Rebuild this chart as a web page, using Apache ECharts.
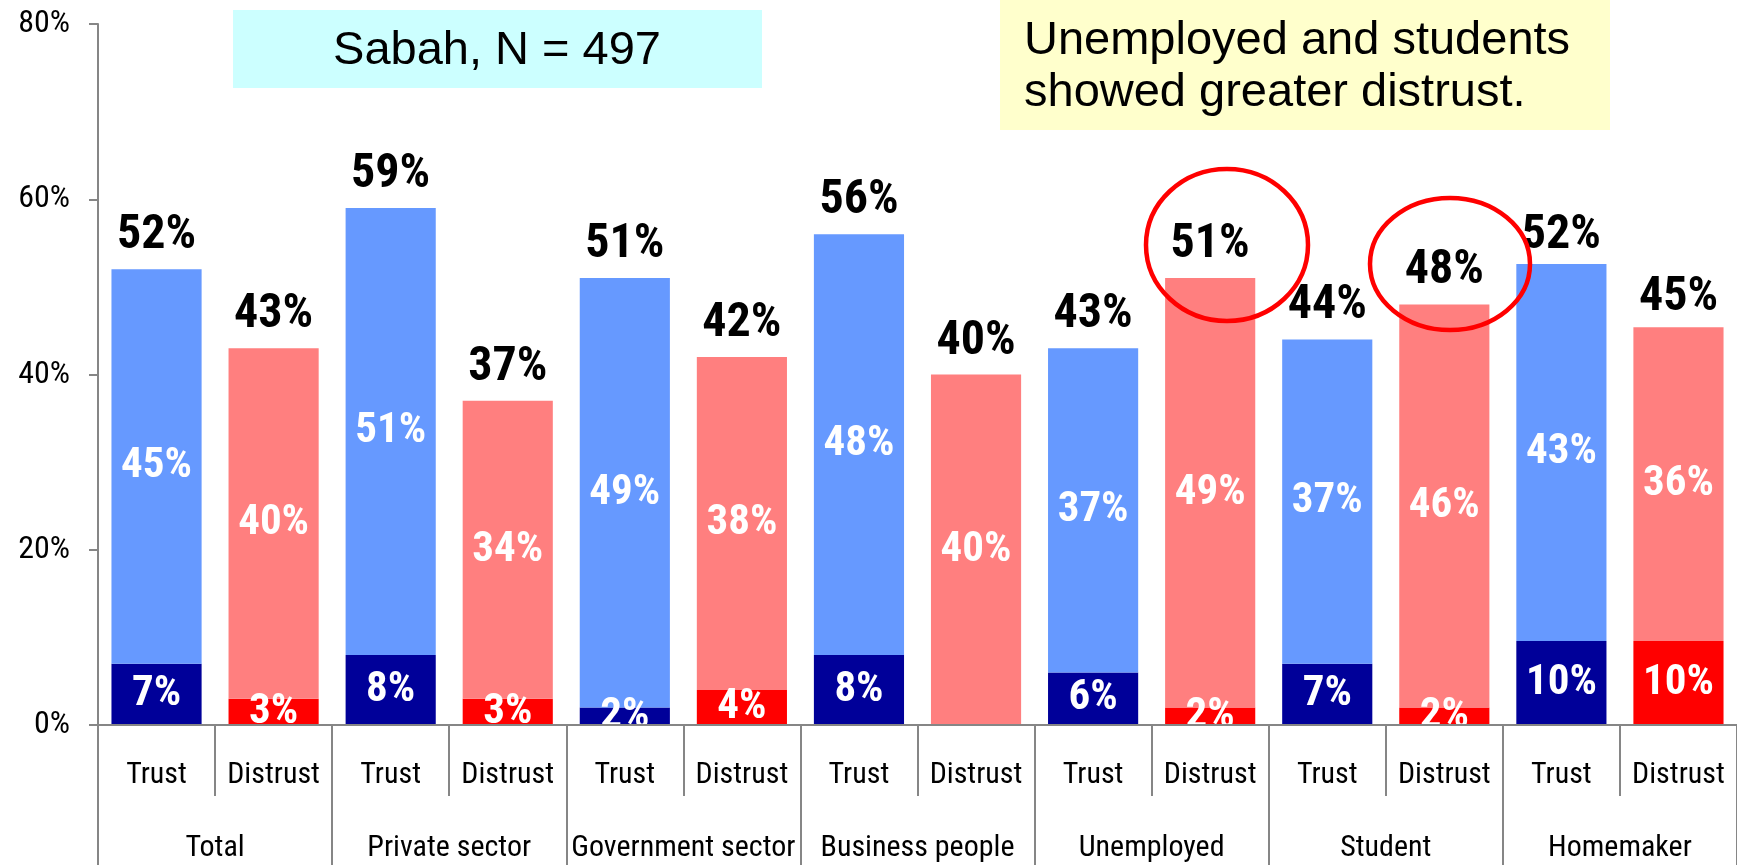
<!DOCTYPE html>
<html>
<head>
<meta charset="utf-8">
<title>Sabah - trust / distrust</title>
<script src="https://cdn.jsdelivr.net/npm/echarts@6/dist/echarts.min.js"></script>
<style>
  html, body { margin: 0; padding: 0; background: #ffffff; }
  #chart { width: 1737px; height: 865px; }
</style>
</head>
<body>
<div id="chart"></div>
<script>
var groups = ['Total', 'Private sector', 'Government sector', 'Business people', 'Unemployed', 'Student', 'Homemaker'];
var answers = ['Trust', 'Distrust'];

var strongTrust = [7, 8, 2, 8, 6, 7, 9.6];
var somewhatTrust = [45, 51, 49, 48, 37, 37, 43];
var totalTrust = [52, 59, 51, 56, 43, 44, 52];

var strongDistrust = [3, 3, 4, 0, 2, 2, 9.6];
var somewhatDistrust = [40, 34, 38, 40, 49, 46, 35.8];
var totalDistrust = [43, 37, 42, 40, 51, 48, 45];

var yTicks = [0, 20, 40, 60, 80];

var narrow = "'Roboto Condensed', 'Liberation Sans Narrow', 'Arial Narrow', sans-serif";
var plain = "'Liberation Sans', Arial, Helvetica, sans-serif";
var axisGrey = '#868686';

// trust / distrust interleaved per group
var cats = [], strongData = [], somewhatData = [], totalData = [];
for (var i = 0; i < groups.length; i++) {
	cats.push(answers[0], answers[1]);
	strongData.push({ value: strongTrust[i], itemStyle: { color: '#000099' } });
	strongData.push({ value: strongDistrust[i], itemStyle: { color: '#FF0000' } });
	somewhatData.push({ value: somewhatTrust[i], itemStyle: { color: '#6699FF' } });
	somewhatData.push({ value: somewhatDistrust[i], itemStyle: { color: '#FF7F7F' } });
	totalData.push(totalTrust[i], totalDistrust[i]);
}

function pct(p) {
	if (!p.value) return '';
	return Math.round(p.value) + '%';
}

var chart = echarts.init(document.getElementById('chart'));

var option = {
	animation: false,
	grid: { left: 98, top: 24, width: 1656, height: 701 },
	xAxis: [{
		type: 'category',
		data: cats,
		position: 'bottom',
		z: 10,
		axisLine: { lineStyle: { color: axisGrey, width: 2 } },
		axisTick: { show: true, interval: 0, length: 71, lineStyle: { color: axisGrey, width: 2 } },
		axisLabel: { interval: 0, margin: 35, color: '#000', fontSize: 30, fontFamily: narrow }
	}, {
		type: 'category',
		data: groups,
		position: 'bottom',
		z: 10,
		axisLine: { show: false },
		axisTick: { show: true, interval: 0, length: 145, lineStyle: { color: axisGrey, width: 2 } },
		axisLabel: { interval: 0, margin: 108, color: '#000', fontSize: 30, fontFamily: narrow }
	}],
	yAxis: {
		type: 'value',
		min: yTicks[0],
		max: yTicks[yTicks.length - 1],
		interval: 20,
		splitLine: { show: false },
		axisLine: { show: true, lineStyle: { color: axisGrey, width: 2 } },
		axisTick: { show: true, length: 9, lineStyle: { color: axisGrey, width: 2 } },
		axisLabel: { formatter: '{value}%', margin: 28, color: '#000', fontSize: 32, fontFamily: narrow }
	},
	series: [{
		name: 'Strongly',
		type: 'bar',
		stack: 'a',
		xAxisIndex: 0,
		barCategoryGap: '23%',
		barGap: '-100%',
		data: strongData,
		label: { show: true, position: 'inside', formatter: pct, color: '#fff', fontSize: 43, fontWeight: 'bold', fontFamily: narrow }
	}, {
		name: 'Somewhat',
		type: 'bar',
		stack: 'a',
		xAxisIndex: 0,
		barCategoryGap: '23%',
		barGap: '-100%',
		data: somewhatData,
		label: { show: true, position: 'inside', formatter: pct, color: '#fff', fontSize: 43, fontWeight: 'bold', fontFamily: narrow }
	}, {
		name: 'Total',
		type: 'bar',
		xAxisIndex: 0,
		barCategoryGap: '23%',
		barGap: '-100%',
		itemStyle: { color: 'rgba(0,0,0,0)' },
		data: totalData,
		z: 1,
		label: { show: true, position: 'top', distance: 9, formatter: '{c}%', color: '#000', fontSize: 48, fontWeight: 'bold', fontFamily: narrow }
	}],
	graphic: [{
		type: 'rect',
		shape: { x: 233, y: 10, width: 529, height: 78 },
		style: { fill: '#CCFFFF' },
		z: 20
	}, {
		type: 'text',
		x: 497, y: 51,
		style: { text: 'Sabah, N = 497', font: '47px ' + plain, fill: '#000', align: 'center', verticalAlign: 'middle' },
		z: 21
	}, {
		type: 'rect',
		shape: { x: 1000, y: 0, width: 610, height: 130 },
		style: { fill: '#FFFFCC' },
		z: 20
	}, {
		type: 'text',
		x: 1024, y: 15,
		style: { text: 'Unemployed and students\nshowed greater distrust.', font: '47px ' + plain, lineHeight: 52, fill: '#000', align: 'left', verticalAlign: 'top' },
		z: 21
	}, {
		type: 'ellipse',
		shape: { cx: 1227, cy: 245, rx: 81, ry: 76 },
		style: { fill: 'none', stroke: '#FF0000', lineWidth: 4.5 },
		z: 22
	}, {
		type: 'ellipse',
		shape: { cx: 1450, cy: 264, rx: 80, ry: 66 },
		style: { fill: 'none', stroke: '#FF0000', lineWidth: 4.5 },
		z: 22
	}]
};

chart.setOption(option);
</script>
</body>
</html>
